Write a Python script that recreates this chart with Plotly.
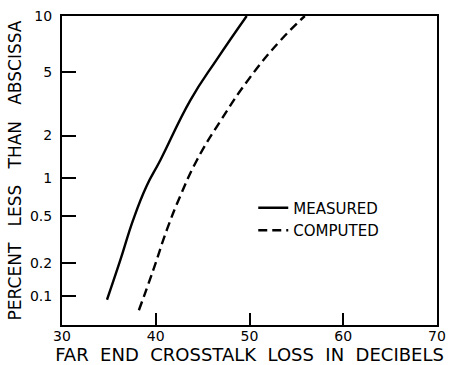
#!/usr/bin/env python
# -*- coding=utf-8 -*-
from statistics import NormalDist

import plotly.graph_objects as go

##############################################################################################################
# crosstalk loss (dB) vs. percent of cases below it
MEASURED_DB = [34.8, 36.2, 37.6, 39.0, 40.5, 43.7, 46.5, 49.7]
MEASURED_PCT = [0.092, 0.21, 0.47, 0.86, 1.35, 3.4, 5.9, 10.0]
COMPUTED_DB = [38.2, 39.7, 41.2, 42.6, 44.4, 46.9, 50.1, 53.3, 55.9]
COMPUTED_PCT = [0.073, 0.17, 0.39, 0.72, 1.35, 2.5, 4.7, 7.5, 10.0]

Y_TICKS = [0.1, 0.2, 0.5, 1, 2, 5, 10]
Y_TICK_TEXT = ['0.1', '0.2', '0.5', '1', '2', '5', '10']
X_TICKS = [30, 40, 50, 60, 70]

FONT = 'DejaVu Sans'

# the y axis is a normal-probability scale
norm = NormalDist()


def probit(pct):
    return [norm.inv_cdf(p / 100.0) for p in pct]


##############################################################################################################
def main():
    fig = go.Figure()
    fig.add_trace(go.Scatter(
        x=MEASURED_DB, y=probit(MEASURED_PCT), mode='lines', name='MEASURED',
        line=dict(color='black', width=2.4, shape='spline', smoothing=1.3),
    ))
    fig.add_trace(go.Scatter(
        x=COMPUTED_DB, y=probit(COMPUTED_PCT), mode='lines', name='COMPUTED',
        line=dict(color='black', width=2.4, dash='9px,5px', shape='spline', smoothing=1.3),
    ))

    axis_common = dict(
        showline=True, linecolor='black', linewidth=2, mirror=True,
        showgrid=False, zeroline=False, automargin=False,
        ticks='inside', tickcolor='black', tickwidth=2,
        ticklabeloverflow='allow',
        tickfont=dict(family=FONT, size=14, color='black'),
    )
    fig.update_layout(
        width=451, height=365,
        margin=dict(l=62, r=14, t=16, b=40, autoexpand=False),
        paper_bgcolor='white', plot_bgcolor='white',
        font=dict(family=FONT, color='black'),
        showlegend=True,
        legend=dict(
            x=0.51, y=0.432, xanchor='left', yanchor='top',
            bgcolor='rgba(0,0,0,0)', borderwidth=0,
            font=dict(family=FONT, size=15, color='black'),
            tracegroupgap=0,
        ),
        xaxis=dict(
            range=[30, 70], tickvals=X_TICKS, ticklen=12,
            ticklabelstandoff=-3,
            title=dict(text='FAR  END  CROSSTALK  LOSS  IN  DECIBELS',
                       font=dict(family=FONT, size=18, color='black')),
            **axis_common,
        ),
        yaxis=dict(
            range=[-3.278, norm.inv_cdf(0.10)],
            tickvals=probit(Y_TICKS), ticktext=Y_TICK_TEXT, ticklen=14,
            ticklabelstandoff=5,
            title=dict(text='PERCENT   LESS   THAN   ABSCISSA',
                       font=dict(family=FONT, size=17, color='black'), standoff=4),
            **axis_common,
        ),
    )
    # drop the default 8px body margin so the figure fills the window exactly
    fig.write_html('out.html', config={'displayModeBar': False},
                   post_script="document.body.style.margin = '0';")


##############################################################################################################
if __name__ == '__main__':
    main()
